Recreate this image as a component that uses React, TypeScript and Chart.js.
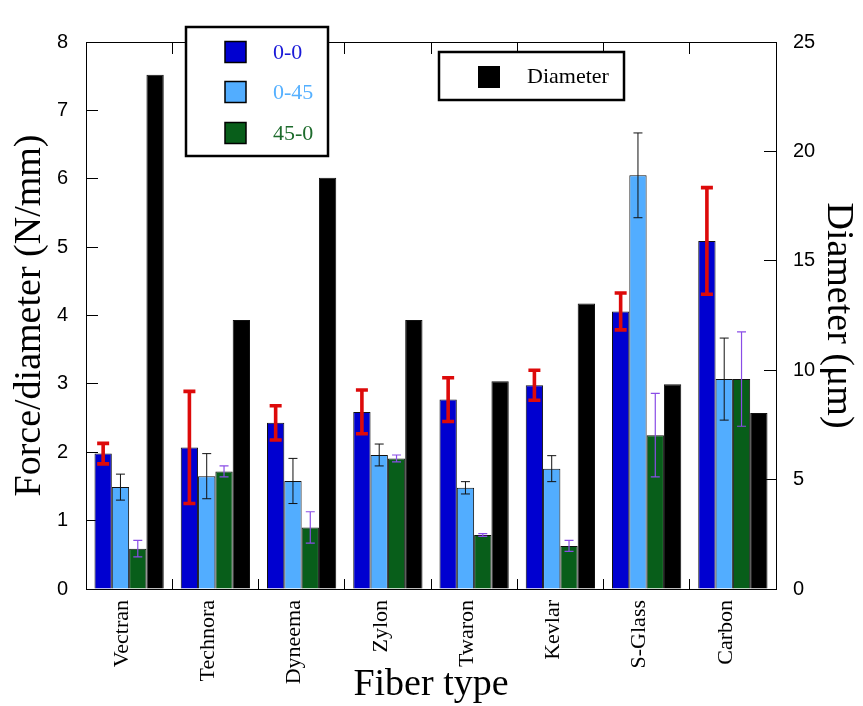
import { useEffect, useRef } from "react";
import { Chart, registerables } from "chart.js";

Chart.register(...registerables);

// ---------- data ----------
const fiberTypes = ["Vectran", "Technora", "Dyneema", "Zylon", "Twaron", "Kevlar", "S-Glass", "Carbon"];

const force00 = [1.98, 2.07, 2.43, 2.59, 2.77, 2.98, 4.06, 5.09];
const force00Err = [0.15, 0.82, 0.25, 0.32, 0.32, 0.22, 0.27, 0.78];

const force045 = [1.49, 1.65, 1.58, 1.96, 1.48, 1.76, 6.05, 3.07];
const force045Err = [0.19, 0.33, 0.33, 0.16, 0.09, 0.19, 0.62, 0.6];

const force450 = [0.59, 1.72, 0.9, 1.91, 0.79, 0.63, 2.25, 3.07];
const force450Err = [0.12, 0.08, 0.23, 0.05, 0.02, 0.08, 0.61, 0.69];

const diameter = [23.5, 12.3, 18.8, 12.3, 9.49, 13.05, 9.36, 8.04];

const seriesLabels = ["0-0", "0-45", "45-0", "Diameter"];
const forceAxisMax = 8;
const forceAxisStep = 1;
const diameterAxisMax = 25;
const diameterAxisStep = 5;

// ---------- styles ----------
const SERIF = '"Liberation Serif", "Times New Roman", serif';
const SANS = '"Liberation Sans", Arial, sans-serif';
const colors = ["#0000d0", "#52adff", "#085e1a", "#000000"];
const legendTextColors = ["#1a1ad8", "#55b0ff", "#1d6b2c"];
const errStyles = [
  { color: "#dd0a0a", width: 3.6, cap: 6 },
  { color: "#111111", width: 1, cap: 4.5 },
  { color: "#8a4de6", width: 1.2, cap: 4.5 },
];

const errorBarPlugin = {
  id: "errorBars",
  afterDatasetsDraw(chart: any) {
    const ctx = chart.ctx;
    const yScale = chart.scales.y;
    const errs = [force00Err, force045Err, force450Err];
    const vals = [force00, force045, force450];
    ctx.save();
    errs.forEach((errArr, di) => {
      const meta = chart.getDatasetMeta(di);
      const st = errStyles[di];
      ctx.strokeStyle = st.color;
      ctx.lineWidth = st.width;
      ctx.lineCap = "butt";
      meta.data.forEach((bar: any, i: number) => {
        const v = vals[di][i];
        const e = errArr[i];
        const x = bar.x;
        const yt = yScale.getPixelForValue(v + e);
        const yb = yScale.getPixelForValue(v - e);
        ctx.beginPath();
        ctx.moveTo(x, yt);
        ctx.lineTo(x, yb);
        ctx.moveTo(x - st.cap, yt);
        ctx.lineTo(x + st.cap, yt);
        ctx.moveTo(x - st.cap, yb);
        ctx.lineTo(x + st.cap, yb);
        ctx.stroke();
      });
    });
    ctx.restore();
  },
  afterDraw(chart: any) {
    const ctx = chart.ctx;
    ctx.save();
    // legend 1
    ctx.fillStyle = "#fff";
    ctx.fillRect(186, 27, 142, 129);
    ctx.lineWidth = 2.5;
    ctx.strokeStyle = "#000";
    ctx.strokeRect(186, 27, 142, 129);
    const rows = [52, 92, 133];
    ctx.font = `22px ${SERIF}`;
    ctx.textBaseline = "middle";
    ctx.textAlign = "left";
    for (let i = 0; i < 3; i++) {
      ctx.fillStyle = colors[i];
      ctx.fillRect(225, rows[i] - 10.5, 21, 21);
      ctx.lineWidth = 1.5;
      ctx.strokeStyle = "#000";
      ctx.strokeRect(225, rows[i] - 10.5, 21, 21);
      ctx.fillStyle = legendTextColors[i];
      ctx.fillText(seriesLabels[i], 273, rows[i] + 1);
    }
    // legend 2
    ctx.fillStyle = "#fff";
    ctx.fillRect(439, 52, 185, 48);
    ctx.lineWidth = 2.5;
    ctx.strokeStyle = "#000";
    ctx.strokeRect(439, 52, 185, 48);
    ctx.fillStyle = colors[3];
    ctx.fillRect(478, 66, 22, 22);
    ctx.fillStyle = "#000";
    ctx.fillText(seriesLabels[3], 527, 77);
    ctx.restore();
  },
};

export default function App() {
  const ref = useRef<HTMLCanvasElement | null>(null);

  useEffect(() => {
    document.body.style.margin = "0";
    const canvas = ref.current;
    if (!canvas) return;
    const barCommon = {
      borderColor: "#111",
      borderWidth: 1,
      categoryPercentage: 0.803,
      barPercentage: 1.0,
    };
    const chart = new Chart(canvas, {
      type: "bar",
      data: {
        labels: fiberTypes,
        datasets: [
          { label: seriesLabels[0], data: force00, backgroundColor: colors[0], yAxisID: "y", ...barCommon },
          { label: seriesLabels[1], data: force045, backgroundColor: colors[1], yAxisID: "y", ...barCommon },
          { label: seriesLabels[2], data: force450, backgroundColor: colors[2], yAxisID: "y", ...barCommon },
          { label: seriesLabels[3], data: diameter, backgroundColor: colors[3], yAxisID: "y1", ...barCommon },
        ],
      },
      options: {
        animation: false,
        responsive: false,
        devicePixelRatio: 1,
        layout: { padding: { top: 21, left: 0, right: 0, bottom: 0 } },
        plugins: {
          legend: { display: false },
          tooltip: { enabled: false },
          title: { display: false },
        },
        scales: {
          x: {
            type: "category",
            position: "bottom",
            offset: true,
            grid: {
              offset: true,
              drawOnChartArea: false,
              drawTicks: true,
              tickLength: -10,
              color: "#000",
              lineWidth: 1,
            },
            border: { display: true, color: "#000", width: 1 },
            ticks: {
              autoSkip: false,
              minRotation: 90,
              maxRotation: 90,
              padding: 21,
              labelOffset: -7,
              color: "#000",
              font: { family: SERIF, size: 22 },
            },
            title: {
              display: true,
              text: "Fiber type",
              color: "#000",
              font: { family: SERIF, size: 38, lineHeight: 1 },
              padding: { top: 0, bottom: 2 },
            },
            afterFit(scale: any) {
              scale.height = 117;
            },
          },
          xTop: {
            type: "category",
            position: "top",
            offset: true,
            grid: {
              offset: true,
              drawOnChartArea: false,
              drawTicks: true,
              tickLength: -12,
              color: "#000",
              lineWidth: 1,
            },
            border: { display: true, color: "#000", width: 1 },
            ticks: { display: false },
            afterFit(scale: any) {
              scale.height = 0;
            },
          },
          y: {
            type: "linear",
            position: "left",
            min: 0,
            max: forceAxisMax,
            grid: {
              drawOnChartArea: false,
              drawTicks: true,
              tickLength: -12,
              color: "#000",
              lineWidth: 1,
            },
            border: { display: true, color: "#000", width: 1 },
            ticks: {
              stepSize: forceAxisStep,
              padding: 30,
              color: "#000",
              font: { family: SANS, size: 20 },
            },
            title: {
              display: true,
              text: "Force/diameter (N/mm)",
              color: "#000",
              font: { family: SERIF, size: 38, lineHeight: 1 },
              padding: { top: 11, bottom: 0 },
            },
            afterFit(scale: any) {
              scale.width = 86;
            },
          },
          y1: {
            type: "linear",
            position: "right",
            min: 0,
            max: diameterAxisMax,
            grid: {
              drawOnChartArea: false,
              drawTicks: true,
              tickLength: -12,
              color: "#000",
              lineWidth: 1,
            },
            border: { display: true, color: "#000", width: 1 },
            ticks: {
              stepSize: diameterAxisStep,
              padding: 29,
              color: "#000",
              font: { family: SANS, size: 20 },
            },
            title: {
              display: true,
              text: "Diameter (μm)",
              color: "#000",
              font: { family: SERIF, size: 38, lineHeight: 1 },
              padding: { top: 6, bottom: 0 },
            },
            afterFit(scale: any) {
              scale.width = 87;
            },
          },
        },
      } as any,
      plugins: [errorBarPlugin],
    });
    return () => chart.destroy();
  }, []);

  return (
    <div style={{ width: 863, height: 706 }}>
      <canvas ref={ref} width={863} height={706} style={{ display: "block" }} />
    </div>
  );
}
